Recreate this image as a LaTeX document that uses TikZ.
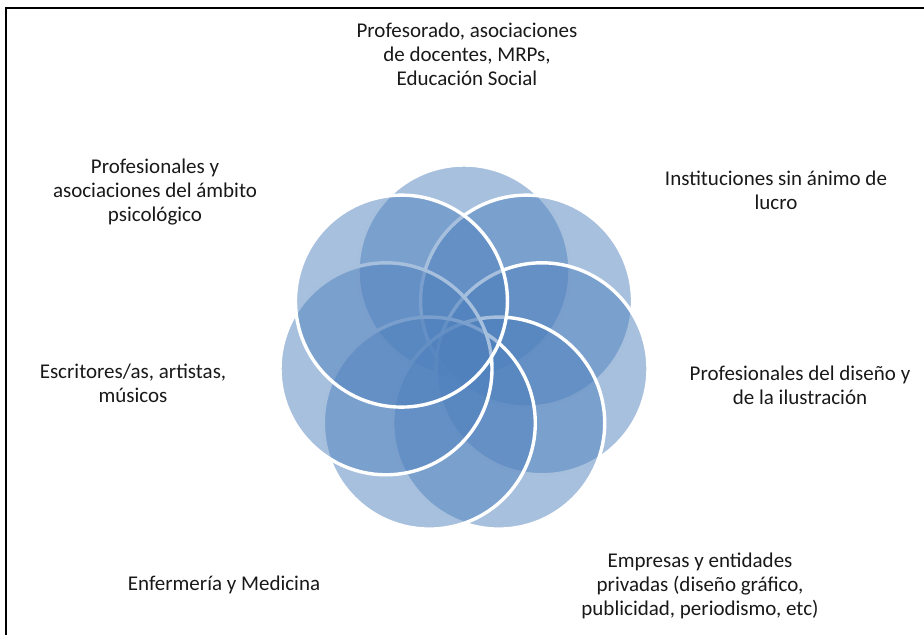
\documentclass[tikz,border=0pt]{standalone}
\usepackage{fontspec}
\setmainfont{Carlito}
\usepackage{tikz}
\usetikzlibrary{calc}

\definecolor{petalblue}{RGB}{79,129,189}
\definecolor{labelgray}{RGB}{25,25,25}

\begin{document}
\begin{tikzpicture}[x=0.5pt, y=-0.5pt,
		petal/.style={fill=petalblue, fill opacity=0.5, draw=white, draw opacity=1, line width=1.7pt},
		lbl/.style={align=center, font=\fontsize{10.5}{12}\selectfont, text=labelgray}]
		\useasboundingbox (0, 0) rectangle (924, 635);
		\draw[line width=1.2pt] (6, 635) -- (6, 8) -- (924, 8);

		% seven overlapping circles, clockwise from the top
		\foreach \k in {0,...,6}
			\draw[petal] (464, 351) ++(-90+\k*360/7:80) circle[radius=106];

		\draw (467, 54)  node[lbl] (prof)  {Profesorado, asociaciones\\de docentes, MRPs,\\Educación Social};
		\draw (776, 190) node[lbl] (inst)  {Instituciones sin ánimo de\\lucro};
		\draw (800, 385) node[lbl] (dise)  {Profesionales del diseño y\\de la ilustración};
		\draw (700, 586) node[lbl] (empr)  {Empresas y entidades\\privadas (diseño gráfico,\\publicidad, periodismo, etc)};
		\draw (224, 585) node[lbl] (enfe)  {Enfermería y Medicina};
		\draw (133, 383) node[lbl] (escr)  {Escritores/as, artistas,\\músicos};
		\draw (155, 192) node[lbl] (psic)  {Profesionales y\\asociaciones del ámbito\\psicológico};

	\end{tikzpicture}
\end{document}
